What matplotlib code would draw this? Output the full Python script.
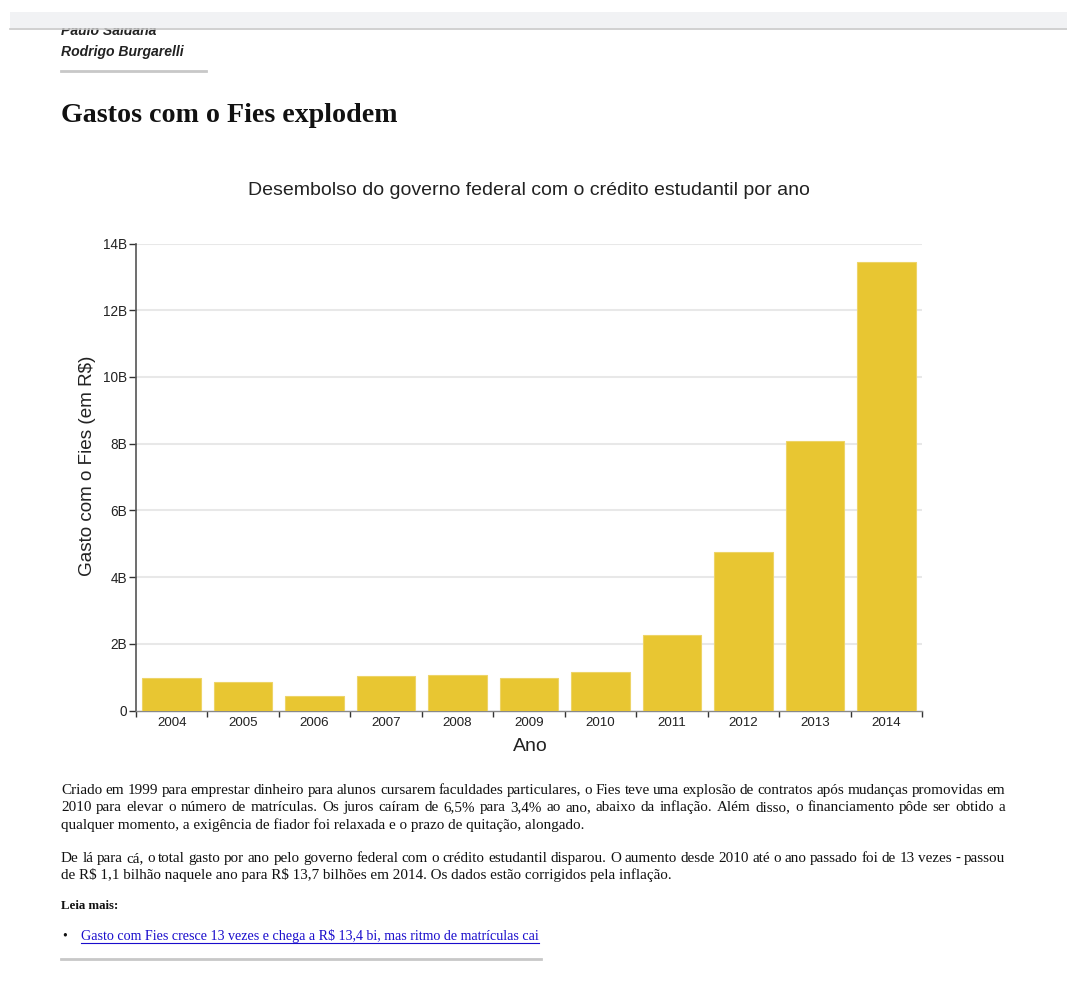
import matplotlib
matplotlib.use("Agg")
import matplotlib.pyplot as plt
from matplotlib.patches import Rectangle
from matplotlib.lines import Line2D

plt.rcParams["text.parse_math"] = False

# ---- data ----
years = ["2004", "2005", "2006", "2007", "2008", "2009", "2010", "2011", "2012", "2013", "2014"]
spend_bi = [0.98, 0.86, 0.44, 1.03, 1.06, 0.98, 1.15, 2.25, 4.76, 8.08, 13.45]
yticks = [0, 2, 4, 6, 8, 10, 12, 14]
ytick_labels = ["0", "2B", "4B", "6B", "8B", "10B", "12B", "14B"]

page_title = "Gastos com o Fies explodem"
chart_title = "Desembolso do governo federal com o crédito estudantil por ano"
ylabel = "Gasto com o Fies (em R$)"
xlabel = "Ano"
authors = ["Paulo Saldaña", "Rodrigo Burgarelli"]
para1 = [
    "Criado em 1999 para emprestar dinheiro para alunos cursarem faculdades particulares, o Fies teve uma explosão de contratos após mudanças promovidas em",
    "2010 para elevar o número de matrículas. Os juros caíram de 6,5% para 3,4% ao ano, abaixo da inflação. Além disso, o financiamento pôde ser obtido a",
    "qualquer momento, a exigência de fiador foi relaxada e o prazo de quitação, alongado.",
]
para2 = [
    "De lá para cá, o total gasto por ano pelo governo federal com o crédito estudantil disparou. O aumento desde 2010 até o ano passado foi de 13 vezes - passou",
    "de R$ 1,1 bilhão naquele ano para R$ 13,7 bilhões em 2014. Os dados estão corrigidos pela inflação.",
]
leia = "Leia mais:"
link = "Gasto com Fies cresce 13 vezes e chega a R$ 13,4 bi, mas ritmo de matrículas cai"

W, H = 1067, 981
fig = plt.figure(figsize=(W / 100, H / 100), dpi=100)
fig.patch.set_facecolor("white")

def fx(x):
    return x / W

def fy(y):
    return 1 - y / H

SANS = ["Liberation Sans", "DejaVu Sans"]
SERIF = ["Liberation Serif", "DejaVu Serif"]

# ---- chart ----
ax_l, ax_r, ax_b, ax_t = 136, 922, 710.5, 243.5
ax = fig.add_axes([fx(ax_l), fy(ax_b), (ax_r - ax_l) / W, (ax_b - ax_t) / H])
xs = list(range(len(years)))
ax.bar(xs, spend_bi, width=0.82, color="#e8c632", edgecolor="#edd467", linewidth=0.8, zorder=3)
ax.set_xlim(-0.5, len(years) - 0.5)
ax.set_ylim(0, 14)
ax.set_yticks(yticks)
ax.set_yticklabels(ytick_labels, fontfamily=SANS, fontsize=9.8, color="#222222")
ax.set_xticks(xs)
ax.set_xticklabels(years, fontfamily=SANS, fontsize=9.6, color="#222222")
ax.set_xticks([i - 0.5 for i in range(len(years) + 1)], minor=True)
ax.tick_params(axis="x", which="major", length=0, pad=5)
ax.tick_params(axis="x", which="minor", length=4.5, width=1, color="#333333", direction="out")
ax.tick_params(axis="y", which="major", length=5, width=1, color="#333333", pad=1.5)
for s in ["top", "right"]:
    ax.spines[s].set_visible(False)
ax.spines["left"].set_color("#555555")
ax.spines["bottom"].set_color("#888888")
ax.spines["left"].set_linewidth(1.2)
ax.spines["bottom"].set_linewidth(1.0)
for yt in yticks[1:]:
    ax.axhline(yt, color="#e8e8e8", lw=1.5, zorder=1)

fig.text(fx(529), fy(190.5), chart_title, ha="center", va="center", fontsize=14,
         family=SANS, color="#222222")
fig.text(fx(88), fy(466), ylabel, ha="center", va="center", rotation=90, fontsize=13.6,
         family=SANS, color="#222222")
fig.text(fx(530), fy(746.5), xlabel, ha="center", va="center", fontsize=14,
         family=SANS, color="#222222")

# ---- page header ----
fig.text(fx(61), fy(31), authors[0], ha="left", va="center", fontsize=10.1, style="italic",
         weight="bold", family=SANS, color="#222222", zorder=1)
fig.text(fx(61), fy(52), authors[1], ha="left", va="center", fontsize=10.1, style="italic",
         weight="bold", family=SANS, color="#222222", zorder=1)
fig.add_artist(Rectangle((fx(10), fy(28)), 1 - fx(10), (28 - 12) / H, transform=fig.transFigure,
                         facecolor="#f1f2f4", edgecolor="none", zorder=5))
fig.add_artist(Rectangle((0, fy(24)), fx(10), 24 / H, transform=fig.transFigure,
                         facecolor="white", edgecolor="none", zorder=6))
fig.add_artist(Line2D([fx(10), 1], [fy(29), fy(29)], transform=fig.transFigure,
                      color="#c8c8c8", lw=1.2, zorder=6))
fig.add_artist(Line2D([fx(61), fx(206)], [fy(70.5), fy(70.5)], transform=fig.transFigure,
                      color="#c8c8c8", lw=2, zorder=2))
fig.text(fx(61), fy(115), page_title, ha="left", va="center", fontsize=20.2, weight="bold",
         family=SERIF, color="#111111")

# ---- body text ----
renderer = fig.canvas.get_renderer()
LEFT, RIGHT = 61, 1005
BODY_FS = 10.9
BASE_OFF = 4  # baseline offset below line centre, px

def text_line(y, s, justify, fs=BODY_FS, weight="normal", color="#111111", x0=LEFT, x1=RIGHT):
    yb = round(y + BASE_OFF)
    if not justify:
        return fig.text(fx(x0), fy(yb), s, ha="left", va="baseline", fontsize=fs,
                        family=SERIF, weight=weight, color=color)
    words = s.split(" ")
    arts = []
    widths = []
    for w in words:
        t = fig.text(0, 0, w, ha="left", va="baseline", fontsize=fs, family=SERIF,
                     weight=weight, color=color)
        bb = t.get_window_extent(renderer=renderer)
        arts.append(t)
        widths.append(bb.width)
    gap = ((x1 - x0) - sum(widths)) / (len(words) - 1)
    x = x0
    for t, wd in zip(arts, widths):
        t.set_position((fx(x), fy(yb)))
        x += wd + gap

for i, ln in enumerate(para1):
    text_line(790 + i * 17.3, ln, justify=(i < len(para1) - 1))
for i, ln in enumerate(para2):
    text_line(858 + i * 17.3, ln, justify=(i < len(para2) - 1))

fig.text(fx(61), fy(906), leia, ha="left", va="center", fontsize=9.3, weight="bold",
         family=SERIF, color="#111111")
fig.text(fx(62), fy(936), "•", ha="left", va="center", fontsize=10, family=SERIF, color="#111111")
lt = fig.text(fx(81), fy(936), link, ha="left", va="center", fontsize=10.05, family=SERIF,
              color="#1a0dcc")
bb = lt.get_window_extent(renderer=renderer)
fig.add_artist(Line2D([fx(81), fx(81 + bb.width)], [fy(942.5), fy(942.5)], transform=fig.transFigure,
                      color="#1a0dcc", lw=0.8))
fig.add_artist(Line2D([fx(61), fx(541)], [fy(958.5), fy(958.5)], transform=fig.transFigure,
                      color="#c8c8c8", lw=2))

fig.savefig("out.png", dpi=100)
